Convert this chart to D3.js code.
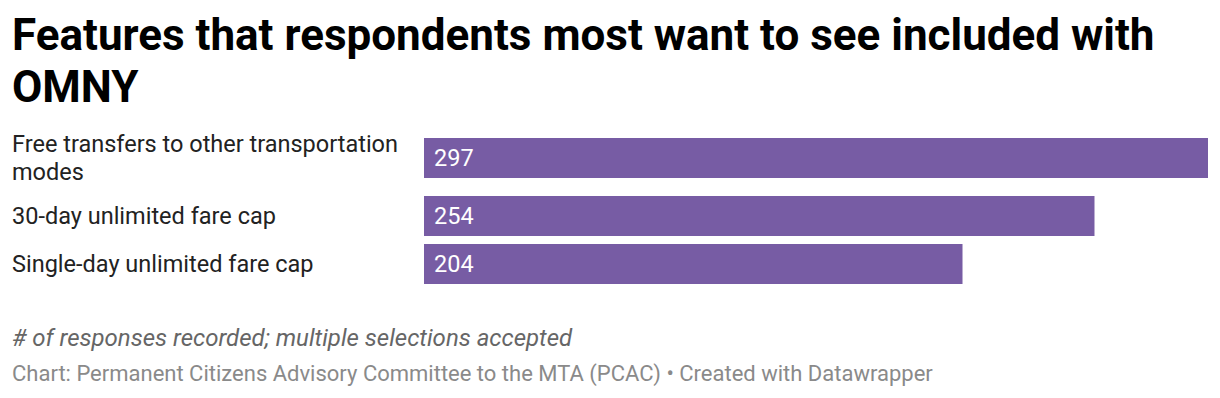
<!DOCTYPE html>
<html>
<head>
<meta charset="utf-8">
<script src="https://d3js.org/d3.v7.min.js"></script>
<style>
body { margin: 0; background: #fff; }
svg text { font-family: Roboto, sans-serif; }
</style>
</head>
<body>
<div id="chart"></div>
<script>
// data
var categories = [
	["Free transfers to other transportation", "modes"],
	["30-day unlimited fare cap"],
	["Single-day unlimited fare cap"]
];
var values = [297, 254, 204];

var titleLines = ["Features that respondents most want to see included with", "OMNY"];
var noteText = "# of responses recorded; multiple selections accepted";
var sourceText = "Chart: Permanent Citizens Advisory Committee to the MTA (PCAC) \u2022 Created with Datawrapper";

var width = 1220;
var height = 398;
var barLeft = 424;
var barRight = 1208;
var barHeight = 40;
var lineHeight = 28;
var rowGap = 8;

var svg = d3.select("#chart")
	.append("svg")
	.attr("width", width)
	.attr("height", height);

// title
svg.append("g").selectAll("text")
	.data(titleLines)
	.enter()
	.append("text")
	.attr("x", 12)
	.attr("y", function(d, i) { return 50 + i * 52; })
	.attr("font-size", "44px")
	.attr("font-weight", "bold")
	.attr("fill", "#000")
	.text(function(d) { return d; });

var x = d3.scaleLinear()
	.domain([0, d3.max(values)])
	.range([barLeft, barRight]);

// row layout: rows grow when the label wraps
var rows = [];
var yPos = 138;
for (var i = 0; i < values.length; i++) {
	var rowH = Math.max(barHeight, categories[i].length * lineHeight);
	rows.push({ label: categories[i], value: values[i], top: yPos });
	yPos += (categories[i].length > 1 ? rowH - 6 : rowH) + rowGap;
}

var gRows = svg.append("g").selectAll("g")
	.data(rows)
	.enter()
	.append("g");

gRows.append("rect")
	.attr("x", x(0))
	.attr("y", function(d) { return d.top; })
	.attr("width", function(d) { return x(d.value) - x(0); })
	.attr("height", barHeight)
	.attr("fill", "#775ca4");

gRows.append("text")
	.attr("x", x(0) + 10)
	.attr("y", function(d) { return d.top + barHeight / 2 + 8; })
	.attr("font-size", "23.5px")
	.attr("fill", "#fff")
	.text(function(d) { return d.value; });

gRows.each(function(d) {
	var mid = d.top + barHeight / 2;
	var n = d.label.length;
	d3.select(this).selectAll("text.lbl")
		.data(d.label)
		.enter()
		.append("text")
		.attr("class", "lbl")
		.attr("x", 12)
		.attr("y", function(t, j) { return mid + 8 + (j - (n - 1) / 2) * lineHeight; })
		.attr("font-size", "23.5px")
		.attr("fill", "#222")
		.text(function(t) { return t; });
});

svg.append("text")
	.attr("x", 12)
	.attr("y", 346)
	.attr("font-size", "24px")
	.attr("font-style", "italic")
	.attr("fill", "#666")
	.text(noteText);

svg.append("text")
	.attr("x", 12)
	.attr("y", 381)
	.attr("font-size", "22px")
	.attr("fill", "#8a8a8a")
	.text(sourceText);
</script>
</body>
</html>
